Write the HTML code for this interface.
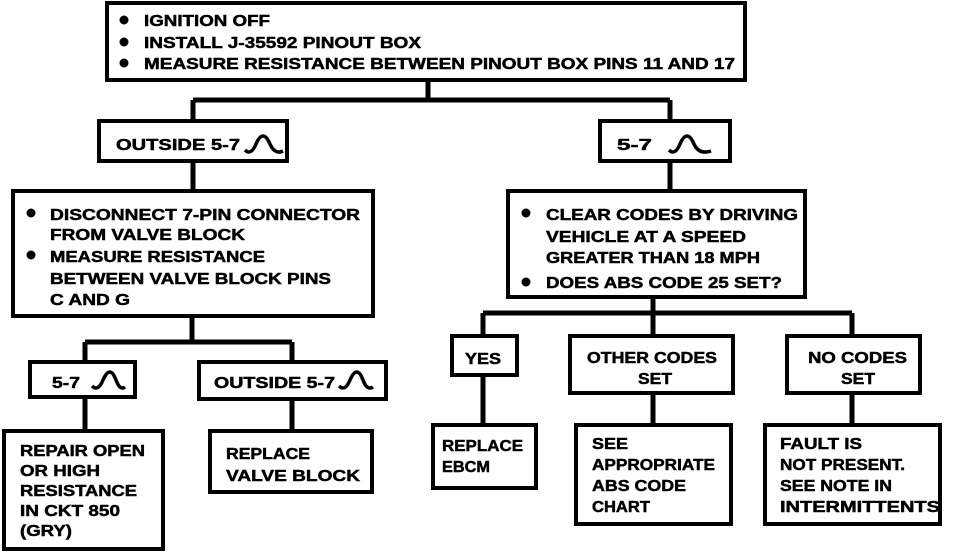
<!DOCTYPE html>
<html><head><style>
html,body{margin:0;padding:0;background:#fff;}
svg{display:block;}
text{font-family:"Liberation Sans",sans-serif;font-weight:bold;font-size:16px;fill:#000;stroke:#000;stroke-width:0.5px;}
.b{fill:none;stroke:#000;stroke-width:4;}
.l{fill:none;stroke:#000;stroke-width:5;}
.w{fill:none;stroke:#000;stroke-width:3.5;}
</style></head><body>
<svg width="960" height="552" viewBox="0 0 960 552">
<path class="l" d="M428 80V100M193 100H670M193 100V121M670 100V121M193 161V191M670 161V191"/>
<path class="l" d="M192 316V342M85 342H292M85 342V362M292 342V362M85 397V431M292 399V431"/>
<path class="l" d="M653 297V313M483 313H852M483 313V336M653 313V336M852 313V336M483 375V425M653 393V425M852 393V425"/>
<rect class="b" x="107" y="3" width="638" height="77"/>
<rect class="b" x="99" y="121" width="188" height="40"/>
<rect class="b" x="600" y="121" width="130" height="40"/>
<rect class="b" x="13" y="191" width="360" height="125"/>
<rect class="b" x="508" y="191" width="297" height="106"/>
<rect class="b" x="30" y="362" width="105" height="35"/>
<rect class="b" x="199" y="362" width="187" height="37"/>
<rect class="b" x="4" y="431" width="159" height="118"/>
<rect class="b" x="210" y="431" width="162" height="61"/>
<rect class="b" x="452" y="336" width="65" height="39"/>
<rect class="b" x="570" y="336" width="163" height="57"/>
<rect class="b" x="787" y="336" width="133" height="57"/>
<rect class="b" x="433" y="425" width="103" height="63"/>
<rect class="b" x="576" y="425" width="155" height="99"/>
<rect class="b" x="765" y="425" width="175" height="99"/>
<g fill="#000">
<circle cx="124" cy="20" r="4.5"/><circle cx="124" cy="42" r="4.5"/><circle cx="124" cy="63" r="4.5"/>
<circle cx="31" cy="213" r="4.5"/><circle cx="31" cy="255" r="4.5"/>
<circle cx="526" cy="213" r="4.5"/><circle cx="526" cy="282" r="4.5"/>
</g>
<g lengthAdjust="spacingAndGlyphs">
<text x="144" y="26" textLength="126" lengthAdjust="spacingAndGlyphs">IGNITION OFF</text>
<text x="144" y="48" textLength="277" lengthAdjust="spacingAndGlyphs">INSTALL J-35592 PINOUT BOX</text>
<text x="144" y="69" textLength="591" lengthAdjust="spacingAndGlyphs">MEASURE RESISTANCE BETWEEN PINOUT BOX PINS 11 AND 17</text>
<text x="116" y="150" textLength="124" lengthAdjust="spacingAndGlyphs">OUTSIDE 5-7</text>
<text x="617" y="150" textLength="35" lengthAdjust="spacingAndGlyphs">5-7</text>
<text x="50" y="220" textLength="310" lengthAdjust="spacingAndGlyphs">DISCONNECT 7-PIN CONNECTOR</text>
<text x="50" y="240" textLength="195" lengthAdjust="spacingAndGlyphs">FROM VALVE BLOCK</text>
<text x="50" y="262" textLength="215" lengthAdjust="spacingAndGlyphs">MEASURE RESISTANCE</text>
<text x="50" y="284" textLength="281" lengthAdjust="spacingAndGlyphs">BETWEEN VALVE BLOCK PINS</text>
<text x="50" y="305" textLength="80" lengthAdjust="spacingAndGlyphs">C AND G</text>
<text x="546" y="220" textLength="252" lengthAdjust="spacingAndGlyphs">CLEAR CODES BY DRIVING</text>
<text x="546" y="242" textLength="200" lengthAdjust="spacingAndGlyphs">VEHICLE AT A SPEED</text>
<text x="546" y="263" textLength="214" lengthAdjust="spacingAndGlyphs">GREATER THAN 18 MPH</text>
<text x="546" y="288" textLength="236" lengthAdjust="spacingAndGlyphs">DOES ABS CODE 25 SET?</text>
<text x="52" y="388" textLength="28" lengthAdjust="spacingAndGlyphs">5-7</text>
<text x="214" y="388" textLength="121" lengthAdjust="spacingAndGlyphs">OUTSIDE 5-7</text>
<text x="20" y="456" textLength="125" lengthAdjust="spacingAndGlyphs">REPAIR OPEN</text>
<text x="20" y="476" textLength="80" lengthAdjust="spacingAndGlyphs">OR HIGH</text>
<text x="20" y="496" textLength="117" lengthAdjust="spacingAndGlyphs">RESISTANCE</text>
<text x="20" y="516" textLength="100" lengthAdjust="spacingAndGlyphs">IN CKT 850</text>
<text x="20" y="536" textLength="52" lengthAdjust="spacingAndGlyphs">(GRY)</text>
<text x="226" y="459" textLength="84" lengthAdjust="spacingAndGlyphs">REPLACE</text>
<text x="226" y="481" textLength="134" lengthAdjust="spacingAndGlyphs">VALVE BLOCK</text>
<text x="465" y="364" textLength="36" lengthAdjust="spacingAndGlyphs">YES</text>
<text x="587" y="363" textLength="130" lengthAdjust="spacingAndGlyphs">OTHER CODES</text>
<text x="638" y="384" textLength="34" lengthAdjust="spacingAndGlyphs">SET</text>
<text x="808" y="363" textLength="99" lengthAdjust="spacingAndGlyphs">NO CODES</text>
<text x="841" y="384" textLength="34" lengthAdjust="spacingAndGlyphs">SET</text>
<text x="442" y="451" textLength="81" lengthAdjust="spacingAndGlyphs">REPLACE</text>
<text x="442" y="472" textLength="48" lengthAdjust="spacingAndGlyphs">EBCM</text>
<text x="592" y="449" textLength="36" lengthAdjust="spacingAndGlyphs">SEE</text>
<text x="592" y="470" textLength="123" lengthAdjust="spacingAndGlyphs">APPROPRIATE</text>
<text x="592" y="491" textLength="94" lengthAdjust="spacingAndGlyphs">ABS CODE</text>
<text x="592" y="512" textLength="58" lengthAdjust="spacingAndGlyphs">CHART</text>
<text x="780" y="449" textLength="82" lengthAdjust="spacingAndGlyphs">FAULT IS</text>
<text x="780" y="470" textLength="125" lengthAdjust="spacingAndGlyphs">NOT PRESENT.</text>
<text x="780" y="491" textLength="112" lengthAdjust="spacingAndGlyphs">SEE NOTE IN</text>
<text x="780" y="512" textLength="160" lengthAdjust="spacingAndGlyphs">INTERMITTENTS</text>
</g>
<path class="w" d="M245 150Q251 156 256 144Q263 128 270 144Q275 155 283 151"/>
<path class="w" d="M669 150Q675 156 680 144Q687 128 694 144Q699 155 711 151"/>
<path class="w" d="M92 386Q98 392 103 380Q110 364 116 380Q120 391 125 387"/>
<path class="w" d="M339 386Q345 392 350 380Q357 364 363 380Q367 391 373 387"/>
</svg>
</body></html>
